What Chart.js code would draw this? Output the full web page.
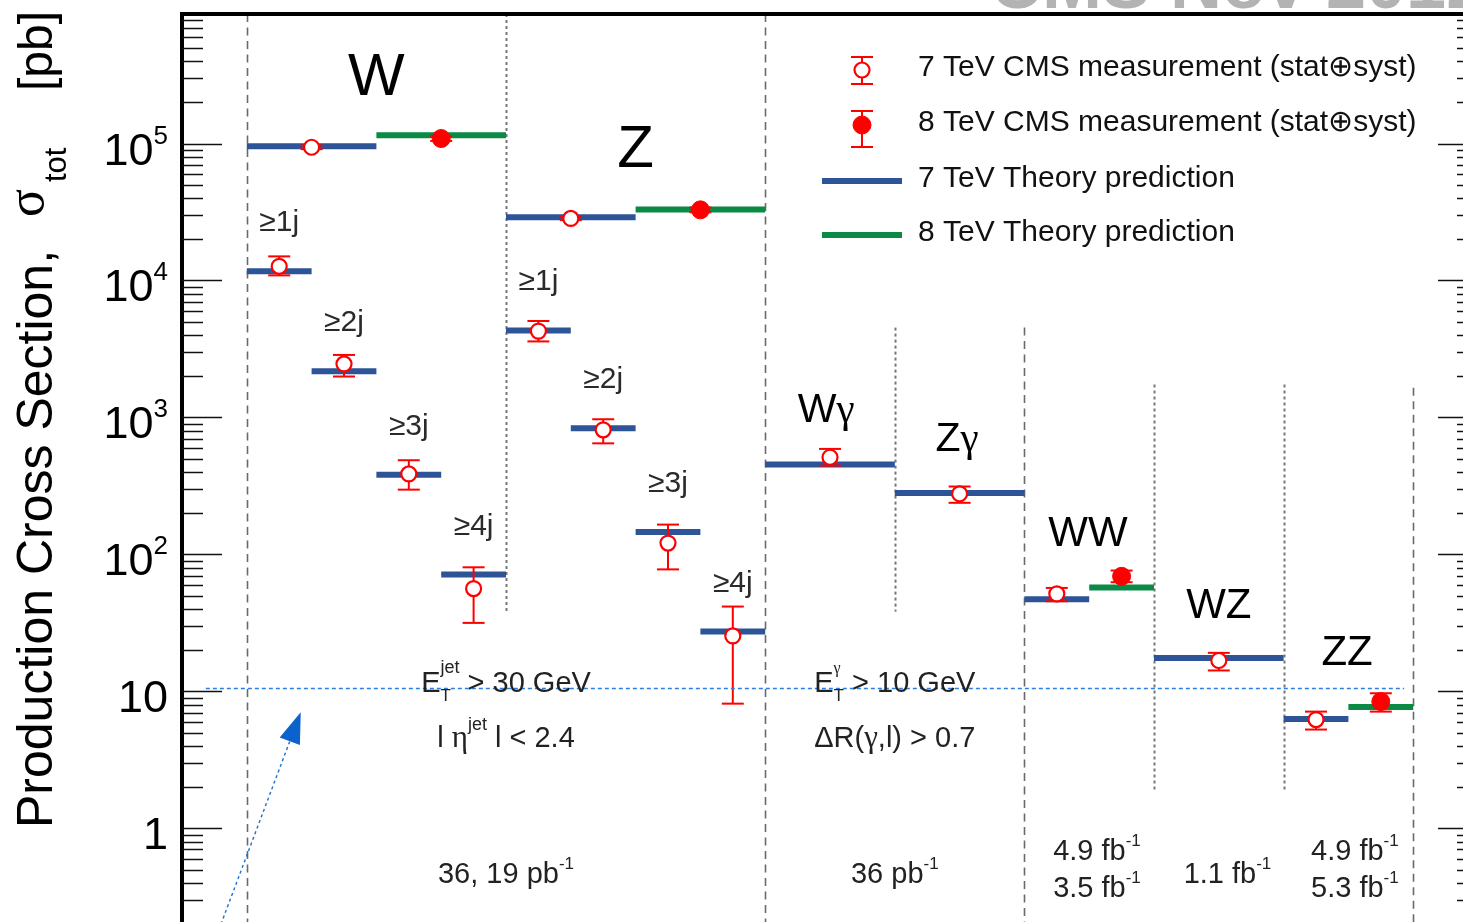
<!DOCTYPE html>
<html>
<head>
<meta charset="utf-8">
<title>Production cross sections</title>
<script src="https://cdn.jsdelivr.net/npm/chart.js"></script>
<style>
  html, body { margin: 0; padding: 0; background: #fff; overflow: hidden; }
  canvas { display: block; }
</style>
</head>
<body>
<canvas id="xsec" width="1520" height="930"></canvas>
<script>
// ---------------------------------------------------------------- data ----
const processes = ['W', 'Z', 'W+≥1j', 'W+≥2j', 'W+≥3j', 'W+≥4j', 'Z+≥1j', 'Z+≥2j', 'Z+≥3j', 'Z+≥4j', 'Wγ', 'Zγ', 'WW', 'WZ', 'ZZ'];
const jetTags   = ['', '', '≥1j', '≥2j', '≥3j', '≥4j', '≥1j', '≥2j', '≥3j', '≥4j', '', '', '', '', ''];

// bin edges along x (one unit per column of the summary)
const bin7From = [0, 2, 0, 0.5, 1, 1.5, 2, 2.5, 3, 3.5, 4, 5, 6, 7, 8];
const bin7To   = [1, 3, 0.5, 1, 1.5, 2, 2.5, 3, 3.5, 4, 5, 6, 6.5, 8, 8.5];
const bin8From = [1, 3, null, null, null, null, null, null, null, null, null, null, 6.5, null, 8.5];
const bin8To   = [2, 4, null, null, null, null, null, null, null, null, null, null, 7, null, 9];

// cross sections in pb
const theory7   = [95500, 28900, 11700, 2170, 381, 71.2, 4320, 835, 146, 27.3, 453, 281, 47.0, 17.5, 6.29];
const meas7     = [94000, 28400, 12700, 2460, 387, 56.3, 4270, 812, 121, 25.4, 512, 277, 51.5, 16.8, 6.22];
const meas7Low  = [91000, 27600, 10900, 1990, 297, 31.6, 3590, 647, 77.7, 8.13, 445, 238, 45.5, 14.2, 5.26];
const meas7High = [97000, 29200, 15000, 2860, 487, 80.5, 5060, 970, 165, 41.6, 589, 313, 56.9, 19.1, 7.11];

const theory8   = [115000, 33000, null, null, null, null, null, null, null, null, null, null, 57.2, null, 7.70];
const meas8     = [108800, 32800, null, null, null, null, null, null, null, null, null, null, 69.2, null, 8.42];
const meas8Low  = [104500, 31500, null, null, null, null, null, null, null, null, null, null, 62.6, null, 7.11];
const meas8High = [113000, 34100, null, null, null, null, null, null, null, null, null, null, 76.2, null, 9.68];

// y axis
const yMin = 0.2;
const yMax = 8.83e5;
const yTickValues = [1, 10, 100, 1000, 10000, 100000];
const yTickBase   = ['1', '10', '10', '10', '10', '10'];
const yTickExp    = ['', '', '2', '3', '4', '5'];

// column separators: x position, line kind, vertical extent in pb (null = frame)
const sepX      = [0, 2, 4, 5, 6, 7, 8, 9];
const sepKind   = ['dash', 'dot', 'dash', 'dot', 'dash', 'dot', 'dot', 'dash'];
const sepTop    = [null, null, null, 4530, 4530, 1740, 1740, 1650];
const sepBottom = [null, 38.2, null, 38.2, null, 1.92, 1.92, null];

const legendLabels = [
  '7 TeV CMS measurement (stat⊕syst)',
  '8 TeV CMS measurement (stat⊕syst)',
  '7 TeV Theory prediction',
  '8 TeV Theory prediction'
];

// ------------------------------------------------------------- styling ----
const FONT = '"Liberation Sans", Arial, Helvetica, sans-serif';
const GREEK = '"Liberation Serif", "Times New Roman", serif';
const font = (size, weight, fam) => `${weight || 'normal'} ${size}px ${fam || FONT}`;
const BLUE = '#2c5496';
const GREEN = '#0b8a46';
const RED = '#ff0000';

function segments(vals, from, to) {
  const pts = [];
  vals.forEach((v, i) => {
    if (v == null) return;
    pts.push({ x: from[i], y: v }, { x: to[i], y: v }, { x: to[i], y: null });
  });
  return pts;
}
function centres(vals, from, to) {
  const pts = [];
  vals.forEach((v, i) => {
    if (v == null) return;
    pts.push({ x: (from[i] + to[i]) / 2, y: v });
  });
  return pts;
}

// text made of pieces with their own size, family and baseline shift; a piece
// marked "stack" shares its x position with the next one (sub/superscript pairs)
function drawRich(ctx, parts, x, y, align) {
  const w = parts.map(p => { ctx.font = font(p.size, null, p.greek ? GREEK : FONT); return ctx.measureText(p.t).width; });
  const adv = parts.map((p, i) => {
    if (p.stack) return 0;
    if (i > 0 && parts[i - 1].stack) return Math.max(w[i], w[i - 1]);
    return w[i];
  });
  const total = adv.reduce((s, v) => s + v, 0);
  let cx = align === 'center' ? x - total / 2 : align === 'right' ? x - total : x;
  ctx.textAlign = 'left';
  parts.forEach((p, i) => {
    ctx.font = font(p.size, null, p.greek ? GREEK : FONT);
    ctx.fillText(p.t, cx, y + (p.dy || 0));
    cx += adv[i];
  });
}

function seg(ctx, x1, y1, x2, y2) {
  ctx.beginPath(); ctx.moveTo(x1, y1); ctx.lineTo(x2, y2); ctx.stroke();
}

function errorBar(ctx, px, pHi, pLo) {
  ctx.strokeStyle = RED;
  ctx.lineWidth = 2;
  ctx.setLineDash([]);
  seg(ctx, px, pHi, px, pLo);
  seg(ctx, px - 11, pHi, px + 11, pHi);
  seg(ctx, px - 11, pLo, px + 11, pLo);
}

function marker(ctx, px, py, filled) {
  ctx.beginPath();
  ctx.arc(px, py, filled ? 9 : 7.5, 0, Math.PI * 2);
  ctx.fillStyle = filled ? RED : '#fff';
  ctx.fill();
  ctx.strokeStyle = RED;
  ctx.lineWidth = filled ? 1 : 2.2;
  ctx.stroke();
}

// annotation texts placed in data coordinates (x column units, y in pb)
const bigLabels = [
  { parts: [{ t: 'W', size: 60 }], x: 1, y: 228000 },
  { parts: [{ t: 'Z', size: 60 }], x: 3, y: 67900 },
  { parts: [{ t: 'W', size: 41 }, { t: 'γ', size: 41, greek: true }], x: 4.47, y: 922 },
  { parts: [{ t: 'Z', size: 41 }, { t: 'γ', size: 41, greek: true }], x: 5.48, y: 566 },
  { parts: [{ t: 'WW', size: 42 }], x: 6.49, y: 114.6 },
  { parts: [{ t: 'WZ', size: 42 }], x: 7.5, y: 34.6 },
  { parts: [{ t: 'ZZ', size: 42 }], x: 8.49, y: 15.7 }
];

const notes = [
  { x: 2, y: 9.9, parts: [{ t: 'E', size: 29 }, { t: 'T', size: 17, dy: 9, stack: true }, { t: 'jet', size: 18, dy: -19 }, { t: ' > 30 GeV', size: 29 }] },
  { x: 2, y: 3.95, parts: [{ t: 'l ', size: 29 }, { t: 'η', size: 31, greek: true }, { t: 'jet', size: 18, dy: -17 }, { t: ' l < 2.4', size: 29 }] },
  { x: 2, y: 0.401, parts: [{ t: '36, 19 pb', size: 29 }, { t: '-1', size: 17, dy: -14 }] },
  { x: 5, y: 9.9, parts: [{ t: 'E', size: 29 }, { t: 'T', size: 17, dy: 9, stack: true }, { t: 'γ', size: 16, dy: -19, greek: true }, { t: ' > 10 GeV', size: 29 }] },
  { x: 5, y: 3.95, parts: [{ t: 'ΔR(', size: 29 }, { t: 'γ', size: 31, greek: true }, { t: ',l) > 0.7', size: 29 }] },
  { x: 5, y: 0.401, parts: [{ t: '36 pb', size: 29 }, { t: '-1', size: 17, dy: -14 }] },
  { x: 6.56, y: 0.59, parts: [{ t: '4.9 fb', size: 29 }, { t: '-1', size: 17, dy: -14 }] },
  { x: 6.56, y: 0.313, parts: [{ t: '3.5 fb', size: 29 }, { t: '-1', size: 17, dy: -14 }] },
  { x: 7.567, y: 0.401, parts: [{ t: '1.1 fb', size: 29 }, { t: '-1', size: 17, dy: -14 }] },
  { x: 8.55, y: 0.59, parts: [{ t: '4.9 fb', size: 29 }, { t: '-1', size: 17, dy: -14 }] },
  { x: 8.55, y: 0.313, parts: [{ t: '5.3 fb', size: 29 }, { t: '-1', size: 17, dy: -14 }] }
];

// reference line at ~10 pb and the pointer arrow below it
const refLine = { y: 10.5, from: -0.316, to: 8.93 };
const arrow = { x0: -0.199, y0: 0.2, x1: 0.416, y1: 7.03 };

const decor = {
  id: 'decor',
  beforeDatasetsDraw(chart) {
    const { ctx, chartArea: a } = chart;
    const x = chart.scales.x, y = chart.scales.y;
    ctx.save();
    sepX.forEach((sx, i) => {
      const px = Math.round(x.getPixelForValue(sx)) + 0.5;
      const top = sepTop[i] == null ? a.top : y.getPixelForValue(sepTop[i]);
      const bot = sepBottom[i] == null ? a.bottom : y.getPixelForValue(sepBottom[i]);
      const dash = sepKind[i] === 'dash';
      ctx.setLineDash(dash ? [8, 5.5] : [3, 3]);
      ctx.strokeStyle = dash ? '#6a6a6a' : '#777';
      ctx.lineWidth = dash ? 1.6 : 2;
      seg(ctx, px, top, px, bot);
    });
    ctx.restore();
  },
  beforeDatasetDraw(chart, args) {
    if (args.index !== 1) return;
    const { ctx } = chart;
    const x = chart.scales.x, y = chart.scales.y;
    ctx.save();
    meas7.forEach((v, i) => {
      const px = x.getPixelForValue((bin7From[i] + bin7To[i]) / 2);
      errorBar(ctx, px, y.getPixelForValue(meas7High[i]), y.getPixelForValue(meas7Low[i]));
    });
    meas8.forEach((v, i) => {
      if (v == null) return;
      const px = x.getPixelForValue((bin8From[i] + bin8To[i]) / 2);
      errorBar(ctx, px, y.getPixelForValue(meas8High[i]), y.getPixelForValue(meas8Low[i]));
    });
    ctx.restore();
  },
  afterDraw(chart) {
    const { ctx, chartArea: a } = chart;
    const x = chart.scales.x, y = chart.scales.y;
    ctx.save();
    ctx.textBaseline = 'alphabetic';

    // reference line and arrow
    ctx.strokeStyle = '#2b7fe0';
    ctx.lineWidth = 1.4;
    ctx.setLineDash([4, 3]);
    const ry = Math.round(y.getPixelForValue(refLine.y)) + 0.5;
    seg(ctx, x.getPixelForValue(refLine.from), ry, x.getPixelForValue(refLine.to), ry);
    const ax0 = x.getPixelForValue(arrow.x0), ay0 = y.getPixelForValue(arrow.y0);
    const ax1 = x.getPixelForValue(arrow.x1), ay1 = y.getPixelForValue(arrow.y1);
    const len = Math.hypot(ax1 - ax0, ay1 - ay0);
    const ux = (ax1 - ax0) / len, uy = (ay1 - ay0) / len;
    const bx = ax1 - 31 * ux, by = ay1 - 31 * uy;
    ctx.strokeStyle = '#1f6fd0';
    ctx.setLineDash([3, 3]);
    seg(ctx, ax0, ay0, bx, by);
    ctx.setLineDash([]);
    ctx.fillStyle = '#0a62cc';
    ctx.beginPath();
    ctx.moveTo(ax1, ay1);
    ctx.lineTo(bx - 10.8 * uy, by + 10.8 * ux);
    ctx.lineTo(bx + 10.8 * uy, by - 10.8 * ux);
    ctx.closePath();
    ctx.fill();

    // frame
    ctx.strokeStyle = '#000';
    ctx.lineWidth = 4;
    ctx.strokeRect(a.left, a.top, a.right - a.left, a.bottom - a.top);

    // log ticks on both vertical sides
    ctx.strokeStyle = '#111';
    ctx.lineWidth = 1.5;
    for (let e = -1; e <= 6; e++) {
      for (let m = 1; m <= 9; m++) {
        const v = m * Math.pow(10, e);
        if (v < yMin * 0.999 || v > yMax) continue;
        const py = Math.round(y.getPixelForValue(v)) + 0.5;
        const L = m === 1 ? 40 : 21;
        seg(ctx, a.left, py, a.left + L, py);
        seg(ctx, a.right - L, py, a.right, py);
      }
    }

    // tick labels
    ctx.fillStyle = '#000';
    yTickValues.forEach((v, i) => {
      const py = y.getPixelForValue(v);
      const parts = [{ t: yTickBase[i], size: 45 }];
      if (yTickExp[i]) parts.push({ t: yTickExp[i], size: 26, dy: -21 });
      drawRich(ctx, parts, 168, py + 21, 'right');
    });

    // axis title (rotated)
    ctx.save();
    ctx.translate(52, 828);
    ctx.rotate(-Math.PI / 2);
    ctx.fillStyle = '#000';
    ctx.textAlign = 'left';
    ctx.font = font(50);
    ctx.fillText('Production Cross Section,', 0, 0);
    ctx.font = font(52, null, GREEK);
    ctx.fillText('σ', 611, -9);
    ctx.font = font(31);
    ctx.fillText('tot', 646, 14);
    ctx.font = font(48);
    ctx.fillText('[pb]', 737, 0);
    ctx.restore();

    // process names
    ctx.fillStyle = '#000';
    bigLabels.forEach(l => drawRich(ctx, l.parts, x.getPixelForValue(l.x), y.getPixelForValue(l.y), 'center'));

    // jet multiplicity tags above each theory bar
    ctx.fillStyle = '#2a2a2a';
    ctx.font = font(30);
    ctx.textAlign = 'center';
    jetTags.forEach((t, i) => {
      if (!t) return;
      const px = x.getPixelForValue((bin7From[i] + bin7To[i]) / 2);
      ctx.fillText(t, px, y.getPixelForValue(theory7[i]) - 40);
    });

    // selection cuts and luminosities
    ctx.fillStyle = '#222';
    notes.forEach(n => drawRich(ctx, n.parts, x.getPixelForValue(n.x), y.getPixelForValue(n.y), 'center'));

    // legend
    const lx = 862, rows = [70, 125, 181, 235];
    errorBar(ctx, lx, rows[0] - 13, rows[0] + 14);
    marker(ctx, lx, rows[0], false);
    errorBar(ctx, lx, rows[1] - 14, rows[1] + 22);
    marker(ctx, lx, rows[1], true);
    ctx.setLineDash([]);
    ctx.lineWidth = 6;
    ctx.strokeStyle = BLUE;
    seg(ctx, 822, rows[2], 902, rows[2]);
    ctx.strokeStyle = GREEN;
    seg(ctx, 822, rows[3], 902, rows[3]);
    ctx.fillStyle = '#111';
    ctx.font = font(30);
    ctx.textAlign = 'left';
    ctx.textBaseline = 'middle';
    legendLabels.forEach((t, i) => ctx.fillText(t, 918, rows[i] - 2));

    // header, mostly above the visible area
    ctx.textBaseline = 'alphabetic';
    ctx.fillStyle = '#b3b3b3';
    ctx.font = font(72, 'bold');
    ctx.fillText('CMS Nov 2012', 990, 8);
    ctx.restore();
  }
};

new Chart(document.getElementById('xsec'), {
  type: 'line',
  data: {
    datasets: [
      {
        label: legendLabels[0],
        data: centres(meas7, bin7From, bin7To),
        showLine: false,
        pointRadius: 7.5,
        pointBorderWidth: 2.2,
        pointBackgroundColor: '#fff',
        pointBorderColor: RED
      },
      {
        label: legendLabels[1],
        data: centres(meas8, bin8From, bin8To),
        showLine: false,
        pointRadius: 9,
        pointBorderWidth: 1,
        pointBackgroundColor: RED,
        pointBorderColor: RED
      },
      {
        label: legendLabels[2],
        data: segments(theory7, bin7From, bin7To),
        borderColor: BLUE,
        borderWidth: 6,
        borderCapStyle: 'butt',
        pointRadius: 0,
        spanGaps: false,
        tension: 0
      },
      {
        label: legendLabels[3],
        data: segments(theory8, bin8From, bin8To),
        borderColor: GREEN,
        borderWidth: 6,
        borderCapStyle: 'butt',
        pointRadius: 0,
        spanGaps: false,
        tension: 0
      }
    ]
  },
  options: {
    responsive: false,
    animation: false,
    events: [],
    layout: { autoPadding: false, padding: { left: 182, top: 14, right: 42, bottom: 6 } },
    scales: {
      x: {
        type: 'linear', min: -0.5, max: 9.5, display: false,
        afterBuildTicks: s => { s.min = -0.5; s.max = 9.5; }
      },
      y: {
        type: 'logarithmic', min: yMin, max: yMax, display: false,
        afterBuildTicks: s => { s.min = yMin; s.max = yMax; }
      }
    },
    plugins: { legend: { display: false }, tooltip: { enabled: false } }
  },
  plugins: [decor]
});
</script>
</body>
</html>
